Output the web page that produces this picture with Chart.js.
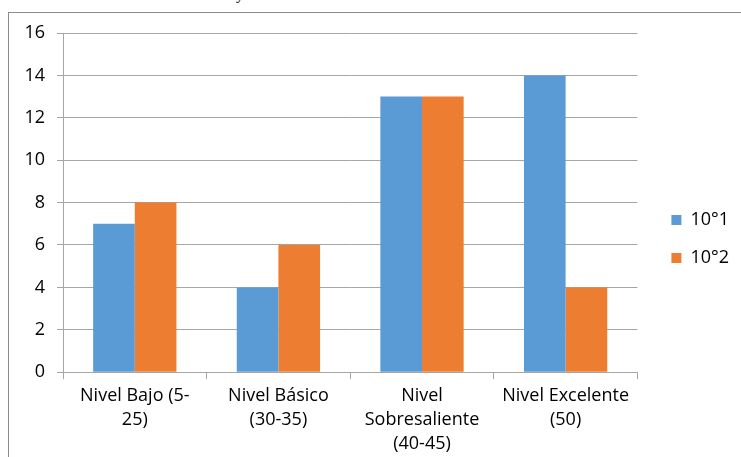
<!DOCTYPE html>
<html>
<head>
<meta charset="utf-8">
<script src="https://cdn.jsdelivr.net/npm/chart.js@4"></script>
<style>
  body { margin: 0; background: #fff; }
  #wrap { position: relative; width: 741px; height: 457px; overflow: hidden; }
  #frame { position: absolute; left: 8px; top: 12px; right: -2px; bottom: -2px;
           border-left: 1px solid #8c8c8c; border-top: 1px solid #8c8c8c; }
  #cut { position: absolute; left: 236px; top: -15px; font: 16px "Liberation Serif"; color: #000; }
  canvas { position: absolute; left: 0; top: 0; }
</style>
</head>
<body>
<div id="wrap">
  <div id="cut">y</div>
  <div id="frame"></div>
  <canvas id="grafico" width="741" height="457"></canvas>
</div>
<script>
var niveles = [
  ["Nivel Bajo (5-", "25)"],
  ["Nivel Básico", "(30-35)"],
  ["Nivel", "Sobresaliente", "(40-45)"],
  ["Nivel Excelente", "(50)"]
];
var curso1 = [7, 4, 13, 14];
var curso2 = [8, 6, 13, 4];
var series = ["10°1", "10°2"];
var yTicks = [0, 2, 4, 6, 8, 10, 12, 14, 16];

var fuente = { family: "Open Sans", size: 18, lineHeight: 1.33 };
var fuenteSimple = { family: "Open Sans", size: 18 };

// nudge the legend to where it sits in the original
var moverLeyenda = {
  id: 'moverLeyenda',
  afterLayout: function (chart) {
    chart.legend.left += 14;
    chart.legend.right += 14;
    chart.legend.top -= 8;
    chart.legend.bottom -= 8;
  }
};

function buildChart() {
  var ctx = document.getElementById('grafico').getContext('2d');
  var chart = new Chart(ctx, {
    type: 'bar',
    data: {
      labels: niveles,
      datasets: [{
        label: series[0],
        backgroundColor: '#5B9BD5',
        data: curso1
      }, {
        label: series[1],
        backgroundColor: '#ED7D31',
        data: curso2
      }]
    },
    options: {
      responsive: false,
      animation: false,
      devicePixelRatio: 1,
      layout: { padding: { left: 0, right: 16, top: 33, bottom: -4 } },
      datasets: { bar: { categoryPercentage: 0.58, barPercentage: 1.0 } },
      plugins: {
        tooltip: { enabled: false },
        legend: {
          position: 'right',
          labels: {
            boxWidth: 10, boxHeight: 10, padding: 20,
            color: '#000', font: fuenteSimple
          }
        }
      },
      scales: {
        x: {
          grid: { display: true, drawOnChartArea: false, drawTicks: true, tickLength: 7, color: '#a6a6a6', offset: true },
          border: { color: '#a6a6a6' },
          ticks: { color: '#000', font: fuente, maxRotation: 0, padding: 5 }
        },
        y: {
          min: 0, max: 16,
          afterFit: function (scale) { scale.width = 63; },
          afterBuildTicks: function (scale) {
            scale.ticks = yTicks.map(function (v) { return { value: v }; });
          },
          grid: { color: '#a6a6a6', tickLength: 6 },
          border: { color: '#a6a6a6' },
          ticks: { color: '#000', font: fuenteSimple, padding: 12 }
        }
      }
    },
    plugins: [moverLeyenda]
  });
}

buildChart();
</script>
</body>
</html>
